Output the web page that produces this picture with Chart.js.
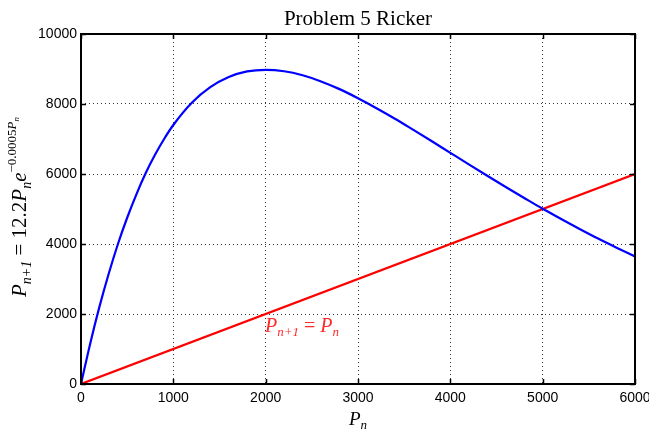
<!DOCTYPE html>
<html>
<head>
<meta charset="utf-8">
<script src="https://cdn.jsdelivr.net/npm/chart.js@4"></script>
<style>
  html, body { margin: 0; padding: 0; background: #fff; }
  #wrap { width: 649px; height: 431px; }
</style>
</head>
<body>
<div id="wrap"><canvas id="c" width="649" height="431"></canvas></div>
<script>
// values
var pn = [0, 100, 200, 300, 400, 500, 600, 700, 800, 900, 1000, 1200, 1400, 1600, 1800, 2000,
          2200, 2400, 2600, 2800, 3000, 3200, 3400, 3600, 3800, 4000, 4200, 4400, 4600, 4800,
          5000, 5200, 5400, 5600, 5800, 6000];
var ricker = [0, 1160, 2210, 3150, 4000, 4750, 5420, 6020, 6540, 7000, 7400, 8035, 8480, 8770, 8930, 8975,
              8935, 8820, 8645, 8425, 8165, 7880, 7580, 7260, 6935, 6605, 6275, 5950, 5630, 5315,
              5005, 4715, 4430, 4155, 3895, 3645];
var identX = [0, 6000];
var identY = [0, 6000];
var xTicks = [0, 1000, 2000, 3000, 4000, 5000, 6000];
var yTicks = [0, 2000, 4000, 6000, 8000, 10000];

function pts(xs, ys) {
	var out = [];
	for (var i = 0; i < xs.length; i++) out.push({x: xs[i], y: ys[i]});
	return out;
}

var SERIF = '"Liberation Serif", "DejaVu Serif", serif';
var SANS = '"Liberation Sans", Arial, sans-serif';

// draw a list of text runs one after another; each run: [text, size, italic, dy]
function drawRuns(ctx, runs, x, y) {
	for (var i = 0; i < runs.length; i++) {
		var r = runs[i];
		ctx.font = (r[2] ? 'italic ' : '') + r[1] + 'px ' + SERIF;
		ctx.fillText(r[0], x, y + (r[3] || 0));
		x += ctx.measureText(r[0]).width;
	}
	return x;
}
function runsWidth(ctx, runs) {
	var w = 0;
	for (var i = 0; i < runs.length; i++) {
		var r = runs[i];
		ctx.font = (r[2] ? 'italic ' : '') + r[1] + 'px ' + SERIF;
		w += ctx.measureText(r[0]).width;
	}
	return w;
}

var decorations = {
	id: 'decorations',
	afterDraw: function(chart) {
		var ctx = chart.ctx, a = chart.chartArea;
		var xs = chart.scales.x, ys = chart.scales.y;
		ctx.save();
		// box
		ctx.strokeStyle = '#000';
		ctx.lineWidth = 2;
		ctx.strokeRect(a.left, a.top, a.right - a.left, a.bottom - a.top);
		// inward ticks on all four sides
		ctx.lineWidth = 1.5;
		ctx.beginPath();
		for (var i = 0; i < xTicks.length; i++) {
			var px = Math.round(xs.getPixelForValue(xTicks[i])) + 0.5;
			ctx.moveTo(px, a.bottom); ctx.lineTo(px, a.bottom - 5);
			ctx.moveTo(px, a.top); ctx.lineTo(px, a.top + 5);
		}
		for (var j = 0; j < yTicks.length; j++) {
			var py = Math.round(ys.getPixelForValue(yTicks[j])) + 0.5;
			ctx.moveTo(a.left, py); ctx.lineTo(a.left + 5, py);
			ctx.moveTo(a.right, py); ctx.lineTo(a.right - 5, py);
		}
		ctx.stroke();

		ctx.fillStyle = '#000';
		ctx.textBaseline = 'alphabetic';
		// title
		ctx.font = '21px ' + SERIF;
		ctx.textAlign = 'center';
		ctx.fillText('Problem 5 Ricker', (a.left + a.right) / 2, 25);
		ctx.textAlign = 'left';

		// x label P_n
		var xl = [['P', 19, true, 0], ['n', 13, true, 4]];
		drawRuns(ctx, xl, (a.left + a.right) / 2 - runsWidth(ctx, xl) / 2, 425);

		// y label, rotated
		var yl = [['P', 21, true, 0], ['n+1', 14, true, 5], [' = 12.2', 21, false, 0],
		          ['P', 21, true, 0], ['n', 14, true, 5], ['e', 21, true, 0],
		          ['\u22120.0005', 13, false, -10], ['P', 13, true, -10], ['n', 9, true, -7]];
		var w = runsWidth(ctx, yl);
		ctx.save();
		ctx.translate(26, 207);
		ctx.rotate(-Math.PI / 2);
		drawRuns(ctx, yl, -w / 2, 0);
		ctx.restore();

		// red annotation
		ctx.fillStyle = '#ff2a2a';
		var ann = [['P', 20, true, 0], ['n+1', 13, true, 4], [' = ', 20, false, 0],
		           ['P', 20, true, 0], ['n', 13, true, 4]];
		drawRuns(ctx, ann, 265, 332);
		ctx.restore();
	}
};

var gridColor = function(ctx) {
	var t = ctx.tick;
	if (!t) return 'rgba(0,0,0,0)';
	var lim = ctx.scale.axis === 'x' ? 6000 : 10000;
	return (t.value === 0 || t.value === lim) ? 'rgba(0,0,0,0)' : '#333';
};
var plainLabel = function(v) { return String(v); };

new Chart(document.getElementById('c'), {
	type: 'line',
	data: {
		datasets: [
			{
				label: 'Ricker',
				data: pts(pn, ricker),
				borderColor: '#0000ff',
				borderWidth: 2.2,
				pointRadius: 0,
				cubicInterpolationMode: 'monotone',
				fill: false
			},
			{
				label: 'identity',
				data: pts(identX, identY),
				borderColor: '#ff0000',
				borderWidth: 2.2,
				pointRadius: 0,
				fill: false
			}
		]
	},
	options: {
		responsive: false,
		animation: false,
		events: [],
		layout: { padding: { top: 34, right: 14, left: 0, bottom: 0 } },
		plugins: { legend: { display: false }, title: { display: false }, tooltip: { enabled: false } },
		scales: {
			x: {
				type: 'linear', min: 0, max: 6000,
				afterFit: function(s) { s.height = 47; s.paddingLeft = 0; s.paddingRight = 0; },
				afterBuildTicks: function(s) { s.ticks = xTicks.map(function(v) { return {value: v}; }); },
				grid: { drawTicks: false, color: gridColor, lineWidth: 1 },
				border: { display: false, dash: [1, 3] },
				ticks: { padding: 6, color: '#000', font: { family: SANS, size: 14 }, maxRotation: 0, callback: plainLabel }
			},
			y: {
				type: 'linear', min: 0, max: 10000,
				afterFit: function(s) { s.width = 81; s.paddingTop = 0; s.paddingBottom = 0; },
				afterBuildTicks: function(s) { s.ticks = yTicks.map(function(v) { return {value: v}; }); },
				grid: { drawTicks: false, color: gridColor, lineWidth: 1 },
				border: { display: false, dash: [1, 3] },
				ticks: { padding: 4, color: '#000', font: { family: SANS, size: 14 }, callback: plainLabel }
			}
		}
	},
	plugins: [decorations]
});
</script>
</body>
</html>
